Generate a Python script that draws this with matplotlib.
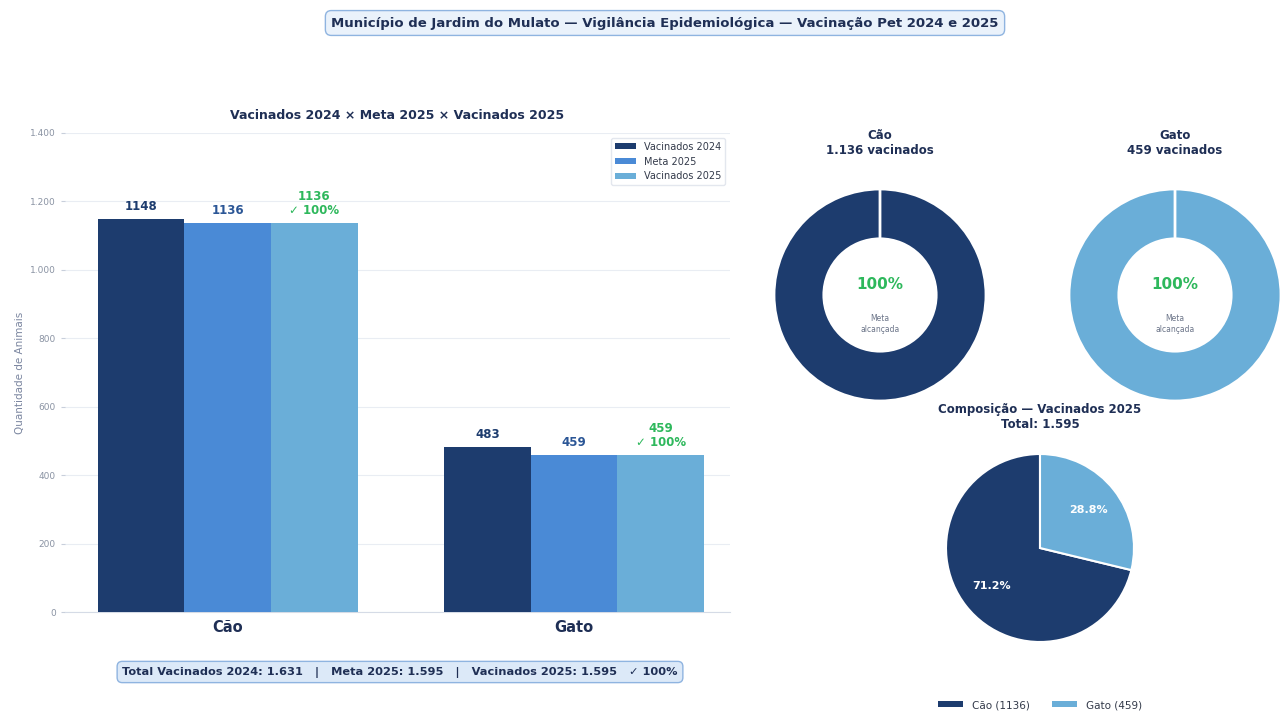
import matplotlib
matplotlib.use("Agg")
import matplotlib.pyplot as plt
import numpy as np
from matplotlib.patches import Patch

plt.rcParams['font.family'] = ['DejaVu Sans']

# ---- data ----
categories = ["Cão", "Gato"]
vacinados_2024 = [1148, 483]
meta_2025 = [1136, 459]
vacinados_2025 = [1136, 459]
series_labels = ["Vacinados 2024", "Meta 2025", "Vacinados 2025"]
yticks = [0, 200, 400, 600, 800, 1000, 1200, 1400]

NAVY = "#1d3c6e"
MID = "#4a8ad6"
LIGHT = "#6aaed8"
GREEN = "#2eb85c"
TXT = "#1f2f55"

W, H = 1283, 711
fig = plt.figure(figsize=(W / 100, H / 100), dpi=100)
fig.patch.set_facecolor("white")


def px_axes(left, top, width, height):
    return fig.add_axes([left / W, 1 - (top + height) / H, width / W, height / H])


def fmt(n):
    return f"{n:,}".replace(",", ".")


# ---- suptitle ----
fig.text(665 / W, 1 - 23 / H,
         "Município de Jardim do Mulato — Vigilância Epidemiológica — Vacinação Pet 2024 e 2025",
         ha="center", va="center", fontsize=9.5, fontweight="bold", color=TXT,
         bbox=dict(boxstyle="round,pad=0.45", facecolor="#eaf2fb", edgecolor="#8fb4e0", linewidth=1))

# ---- bar chart ----
ax = px_axes(65, 133, 665, 479)
x = np.arange(len(categories))
w = 0.25
cols = [NAVY, MID, LIGHT]
data = [vacinados_2024, meta_2025, vacinados_2025]
for i, (vals, c, lab) in enumerate(zip(data, cols, series_labels)):
    ax.bar(x + (i - 1) * w, vals, width=w, color=c, label=lab, zorder=3)

for j in range(len(categories)):
    ax.text(x[j] - w, vacinados_2024[j] + 18, str(vacinados_2024[j]), ha="center", va="bottom",
            fontsize=8.5, fontweight="bold", color=NAVY)
    ax.text(x[j], meta_2025[j] + 18, str(meta_2025[j]), ha="center", va="bottom",
            fontsize=8.5, fontweight="bold", color="#2b5696")
    pct = round(100 * vacinados_2025[j] / meta_2025[j])
    ax.text(x[j] + w, vacinados_2025[j] + 18, f"{vacinados_2025[j]}\n✓ {pct}%", ha="center", va="bottom",
            fontsize=8.5, fontweight="bold", color=GREEN, linespacing=1.1)

ax.set_xlim(-0.47, 1.45)
ax.set_ylim(0, 1400)
ax.set_yticks(yticks)
ax.set_yticklabels([fmt(t) for t in yticks], fontsize=6.5, color="#8a93a3")
ax.set_xticks(x)
ax.set_xticklabels(categories, fontsize=10.5, fontweight="bold", color=TXT)
ax.tick_params(axis="x", length=0, pad=6)
ax.tick_params(axis="y", length=3, color="#c8cfdb")
ax.set_ylabel("Quantidade de Animais", fontsize=7.5, color="#7b86a0")
ax.grid(axis="y", color="#e9edf3", linewidth=0.8, zorder=0)
for s in ["top", "right", "left"]:
    ax.spines[s].set_visible(False)
ax.spines["bottom"].set_color("#d5dbe6")
ax.set_title("Vacinados 2024 × Meta 2025 × Vacinados 2025", fontsize=9, fontweight="bold",
             color=TXT, pad=10)
leg = ax.legend(loc="upper right", fontsize=7, frameon=True, framealpha=1,
                edgecolor="#e3e7ee", handlelength=2.2, handleheight=0.6)
for t in leg.get_texts():
    t.set_color("#333a4a")

# footer
tot24 = sum(vacinados_2024)
totm = sum(meta_2025)
tot25 = sum(vacinados_2025)
fig.text(400 / W, 1 - 672 / H,
         f"Total Vacinados 2024: {fmt(tot24)}   |   Meta 2025: {fmt(totm)}   |   Vacinados 2025: {fmt(tot25)}   ✓ {round(100*tot25/totm)}%",
         ha="center", va="center", fontsize=8.2, fontweight="bold", color=TXT,
         bbox=dict(boxstyle="round,pad=0.45", facecolor="#dce9f8", edgecolor="#8fb4e0", linewidth=1))

# ---- donuts ----
donut_cols = [NAVY, LIGHT]
centers = [(880, 295), (1175, 295)]
R = 106
for j in range(len(categories)):
    cx, cy = centers[j]
    size = 2.5 * R
    dax = px_axes(cx - size / 2, cy - size / 2, size, size)
    rem = max(meta_2025[j] - vacinados_2025[j], 0)
    dax.pie([vacinados_2025[j], rem], colors=[donut_cols[j], "#e6eaf0"], startangle=90,
            counterclock=False, wedgeprops=dict(width=0.47, edgecolor="white", linewidth=2))
    dax.set_xlim(-1.25, 1.25)
    dax.set_ylim(-1.25, 1.25)
    pct = round(100 * vacinados_2025[j] / meta_2025[j])
    dax.text(0, 0.1, f"{pct}%", ha="center", va="center", fontsize=11, fontweight="bold", color=GREEN)
    dax.text(0, -0.27, "Meta\nalcançada", ha="center", va="center", fontsize=5.5, color="#6b7488",
             linespacing=1.3)
    dax.set_title(f"{categories[j]}\n{fmt(vacinados_2025[j])} vacinados", fontsize=8.5,
                  fontweight="bold", color=TXT, pad=6)

# ---- composition pie ----
Rp = 94
size = 2.5 * Rp
pax = px_axes(1040 - size / 2, 548 - size / 2, size, size)
wedges, _, autotexts = pax.pie(vacinados_2025, colors=[NAVY, LIGHT], startangle=90,
                               autopct="%1.1f%%", pctdistance=0.65,
                               wedgeprops=dict(edgecolor="white", linewidth=1.5))
for t in autotexts:
    t.set_color("white")
    t.set_fontweight("bold")
    t.set_fontsize(8)
pax.set_xlim(-1.25, 1.25)
pax.set_ylim(-1.25, 1.25)
pax.set_title(f"Composição — Vacinados 2025\nTotal: {fmt(tot25)}", fontsize=8.5, fontweight="bold",
              color=TXT, pad=0)

handles = [Patch(facecolor=NAVY), Patch(facecolor=LIGHT)]
labels = [f"{c} ({v})" for c, v in zip(categories, vacinados_2025)]
fl = fig.legend(handles, labels, loc="center", bbox_to_anchor=(1040 / W, 1 - 705 / H), ncol=2,
                frameon=False, fontsize=7.5, handlelength=2.4, handleheight=0.5, columnspacing=2.2)
for t in fl.get_texts():
    t.set_color("#333a4a")

fig.savefig("out.png", dpi=100, facecolor="white")
